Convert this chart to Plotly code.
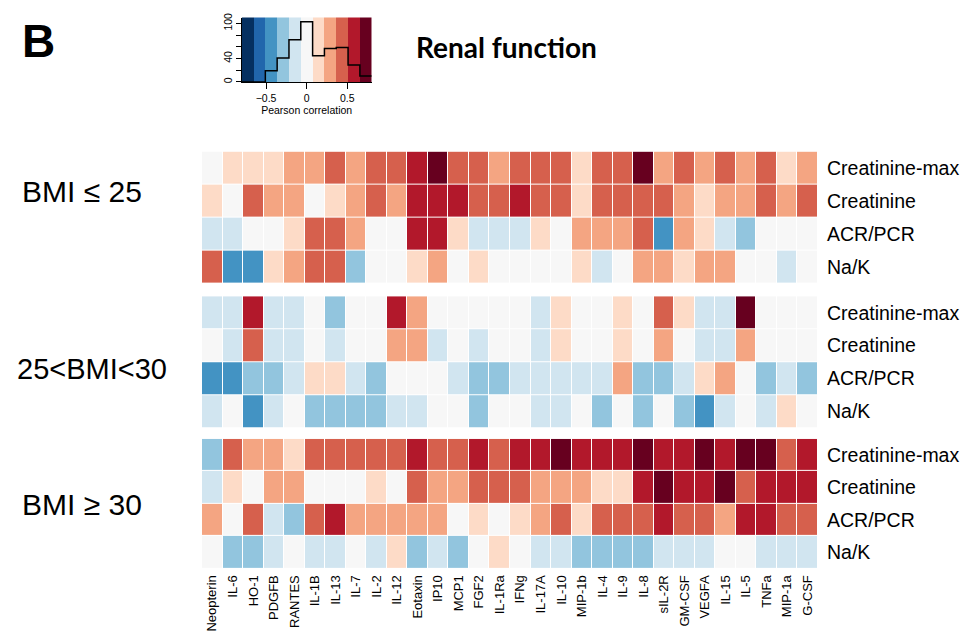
import numpy as np
import plotly.graph_objects as go

# ---------------- data ----------------
cytokines = ["Neopterin", "IL-6", "HO-1", "PDGFB", "RANTES", "IL-1B", "IL-13", "IL-7", "IL-2", "IL-12",
             "Eotaxin", "IP10", "MCP1", "FGF2", "IL-1Ra", "IFNg", "IL-17A", "IL-10", "MIP-1b", "IL-4",
             "IL-9", "IL-8", "sIL-2R", "GM-CSF", "VEGFA", "IL-15", "IL-5", "TNFa", "MIP-1a", "G-CSF"]
measures = ["Creatinine-max", "Creatinine", "ACR/PCR", "Na/K"]
groups = ["BMI \u2264 25", "25<BMI<30", "BMI \u2265 30"]

# Pearson correlations, BMI <= 25
corr_bmi_low = [
    [0, .15, .15, .15, .29, .29, .44, .29, .44, .44, .58, .73, .44, .44, .29, .44, .44, .44, .15, .44,
     .44, .73, .29, .44, .29, .44, .29, .44, .15, .29],
    [.15, 0, .44, .29, .29, 0, .15, .29, .44, .29, .58, .58, .58, .44, .44, .58, .44, .44, .15, .44,
     .44, .44, .44, .29, .15, .29, .29, .44, .29, .44],
    [-.15, -.15, 0, 0, .15, .44, .44, .29, 0, 0, .58, .58, .15, -.15, -.15, -.15, .15, 0, .29, .29,
     .29, .44, -.44, .29, .15, -.15, -.29, 0, 0, 0],
    [.44, -.44, -.44, .15, .29, .44, .44, -.29, 0, 0, .15, .29, 0, .15, 0, 0, 0, 0, .15, -.15,
     0, .29, .29, .15, .29, .29, 0, 0, -.15, 0],
]
# 25 < BMI < 30
corr_bmi_mid = [
    [-.15, -.15, .58, -.15, -.15, 0, -.29, 0, 0, .58, .29, 0, 0, 0, 0, 0, -.15, .15, 0, 0,
     .15, 0, .44, .15, -.15, -.15, .73, 0, 0, 0],
    [0, -.15, .44, -.15, -.15, 0, -.15, 0, 0, .29, .29, -.15, 0, -.15, 0, 0, -.15, .15, 0, 0,
     .15, 0, .29, 0, -.15, -.15, .29, 0, 0, 0],
    [-.44, -.44, -.29, -.29, -.15, .15, .15, -.15, -.29, 0, 0, 0, -.15, -.29, -.29, -.15, -.15, -.15, -.15, -.15,
     .29, -.29, -.29, -.15, .15, .29, 0, -.29, -.15, -.29],
    [-.15, 0, -.44, -.15, 0, -.29, -.29, -.29, -.29, -.15, -.15, 0, 0, -.29, 0, 0, -.15, -.15, 0, -.29,
     0, -.29, 0, -.29, -.44, -.15, 0, -.15, .15, 0],
]
# BMI >= 30
corr_bmi_high = [
    [-.29, .44, .29, .29, .15, .44, .44, .44, .44, .44, .58, .44, .44, .58, .44, .58, .58, .73, .58, .58,
     .58, .73, .58, .58, .73, .58, .73, .73, .44, .58],
    [-.15, .15, 0, .29, .29, 0, 0, 0, .15, 0, .44, .29, .29, .44, .44, .44, .29, .29, .29, .15,
     .15, .58, .73, .58, .58, .73, .44, .58, .58, .58],
    [.29, 0, .44, -.15, -.29, .44, .58, .29, .29, .29, .29, .29, 0, .15, 0, .15, .29, .44, .15, .44,
     .44, .44, .58, .44, .44, .29, .58, .58, .44, .44],
    [0, -.29, -.29, -.15, 0, -.15, -.15, 0, -.15, .15, -.29, -.15, -.29, 0, .15, 0, -.15, -.15, -.29, -.29,
     -.29, -.29, -.15, -.15, -.15, 0, 0, -.15, -.15, -.15],
]
panels = [corr_bmi_low, corr_bmi_mid, corr_bmi_high]

# colour key: histogram of correlations per colour bin
key_edges = np.linspace(-0.8, 0.8, 12)
hist_counts = [0, 0, 19, 41, 72, 103, 45, 57, 59, 29, 10]
key_ticks = [-0.5, 0, 0.5]

rdbu = ["#053061", "#2166ac", "#4393c3", "#92c5de", "#d1e5f0", "#f7f7f7",
        "#fddbc7", "#f4a582", "#d6604d", "#b2182b", "#67001f"]

# ---------------- layout helpers ----------------
W, H = 976, 637
def fx(p):
    return p / W
def fy(p):
    return 1 - p / H

n = len(rdbu)
cscale = []
for i, c in enumerate(rdbu):
    cscale.append([i / n, c])
    cscale.append([(i + 1) / n, c])

fig = go.Figure()

panel_px = [(148, 281), (294, 427), (438, 569)]
yaxes = ["y", "y2", "y3"]
for k, z in enumerate(panels):
    fig.add_trace(go.Heatmap(
        z=z, x=cytokines, y=measures, xaxis="x", yaxis=yaxes[k],
        colorscale=cscale, zmin=-0.8, zmax=0.8, showscale=False,
        xgap=1, ygap=1))

# colour key background + histogram
centers = (key_edges[:-1] + key_edges[1:]) / 2
fig.add_trace(go.Heatmap(
    z=[list(centers), list(centers)], x=list(centers), y=[0, 110],
    xaxis="x4", yaxis="y4", colorscale=cscale, zmin=-0.8, zmax=0.8,
    showscale=False, hoverinfo="skip"))
fig.add_trace(go.Scatter(
    x=list(key_edges), y=hist_counts + [hist_counts[-1]], mode="lines",
    line=dict(color="black", width=1.5, shape="hv"),
    xaxis="x4", yaxis="y4", showlegend=False, hoverinfo="skip"))

font_main = "Liberation Sans, Arial, sans-serif"
layout = dict(
    width=W, height=H, margin=dict(l=0, r=0, t=0, b=0),
    paper_bgcolor="white", plot_bgcolor="white", showlegend=False,
    font=dict(family=font_main, color="black"),
    xaxis=dict(domain=[fx(202), fx(818)], anchor="y3", tickangle=-90,
               tickfont=dict(size=13), ticks="", showgrid=False, zeroline=False,
               ticklabelstandoff=3),
    xaxis4=dict(domain=[fx(241.7), fx(371.7)], anchor="y4", range=[-0.8, 0.8],
                tickvals=key_ticks, ticktext=["\u22120.5", "0", "0.5"],
                ticks="outside", ticklen=6, tickcolor="black", showline=True,
                linecolor="black", linewidth=1, mirror=False, showgrid=False, zeroline=False,
                tickfont=dict(size=10.5),
                title=dict(text="Pearson correlation", font=dict(size=10.5), standoff=4)),
    yaxis4=dict(domain=[fy(77.7), fy(12.7)], anchor="x4", range=[0, 110],
                tickvals=[0, 20, 40, 60, 80, 100], ticktext=["0", "", "40", "", "", "100"],
                tickangle=-90, ticks="outside", ticklen=5, tickcolor="black",
                showline=True, linecolor="black", linewidth=1, showgrid=False,
                zeroline=False, tickfont=dict(size=10.5)),
)
for k, (top, bot) in enumerate(panel_px):
    name = "yaxis" if k == 0 else "yaxis%d" % (k + 1)
    layout[name] = dict(domain=[fy(bot), fy(top)], anchor="x", side="right",
                        autorange="reversed", tickfont=dict(size=19.5), ticks="",
                        showgrid=False, zeroline=False, ticklabelstandoff=8)
fig.update_layout(**layout)

annots = [
    dict(text="<b>B</b>", x=fx(20), y=fy(36), font=dict(size=46, family=font_main)),
    dict(text="<b>Renal function</b>", x=fx(414), y=fy(42), font=dict(size=28, family="Lato, sans-serif")),
    dict(text=groups[0], x=fx(20), y=fy(188), font=dict(size=30)),
    dict(text=groups[1], x=fx(15), y=fy(367), font=dict(size=29)),
    dict(text=groups[2], x=fx(20), y=fy(504), font=dict(size=30)),
]
for a in annots:
    fig.add_annotation(xref="paper", yref="paper", xanchor="left", yanchor="middle",
                       showarrow=False, **a)

fig.write_html("out.html", post_script="document.body.style.margin='0';",
               config={"displayModeBar": False})
